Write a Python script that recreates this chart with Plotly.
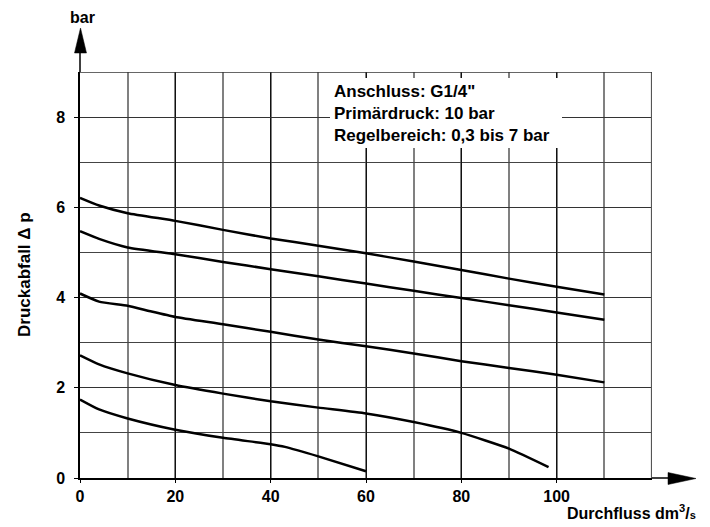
import plotly.graph_objects as go

# ---- data ----
x_c1 = [0, 4, 10, 20, 30, 40, 50, 60, 70, 80, 90, 100, 110]
y_c1 = [6.21, 6.04, 5.87, 5.70, 5.50, 5.31, 5.15, 4.98, 4.80, 4.61, 4.42, 4.24, 4.07]

x_c2 = [0, 4, 10, 20, 30, 40, 50, 60, 70, 80, 90, 100, 110]
y_c2 = [5.47, 5.30, 5.11, 4.96, 4.79, 4.63, 4.47, 4.31, 4.15, 3.99, 3.83, 3.67, 3.51]

x_c3 = [0, 4, 10, 15, 20, 30, 40, 50, 60, 70, 80, 90, 100, 110]
y_c3 = [4.09, 3.91, 3.82, 3.69, 3.57, 3.41, 3.24, 3.07, 2.92, 2.76, 2.59, 2.44, 2.29, 2.12]

x_c4 = [0, 4, 10, 20, 30, 40, 50, 60, 70, 80, 90, 98.3]
y_c4 = [2.72, 2.52, 2.32, 2.06, 1.87, 1.70, 1.56, 1.43, 1.24, 1.00, 0.65, 0.24]

x_c5 = [0, 4, 10, 20, 30, 40, 43, 50, 60]
y_c5 = [1.74, 1.52, 1.32, 1.07, 0.89, 0.75, 0.69, 0.48, 0.15]

x_ticks = [0, 20, 40, 60, 80, 100]
y_ticks = [0, 2, 4, 6, 8]

info_lines = ['Anschluss: G1/4"', 'Primärdruck: 10 bar', 'Regelbereich: 0,3 bis 7 bar']

FONT = "Liberation Sans, Arial, Helvetica, sans-serif"

fig = go.Figure()
for xs, ys in [(x_c1, y_c1), (x_c2, y_c2), (x_c3, y_c3), (x_c4, y_c4), (x_c5, y_c5)]:
    fig.add_trace(go.Scatter(x=xs, y=ys, mode="lines",
                             line=dict(color="black", width=2.5, shape="spline", smoothing=0.5),
                             showlegend=False, hoverinfo="skip"))

# plot area in window pixels: x 80..652, y 72..478 (page body adds an 8 px offset)
PW, PH = 572.0, 406.0
def px(x):
    return (x - 80) / PW
def py(y):
    return (478 - y) / PH

shapes = [
    # right border
    dict(type="line", xref="x", yref="paper", x0=120, x1=120, y0=0, y1=1,
         line=dict(color="#555", width=2.2), layer="above"),
    # white info box
    dict(type="rect", xref="paper", yref="paper", x0=px(330), x1=px(562), y0=py(148), y1=py(78),
         fillcolor="white", line=dict(width=0), layer="above"),
    # y axis extension + arrow
    dict(type="line", xref="paper", yref="paper", x0=0, x1=0, y0=1, y1=py(50),
         line=dict(color="black", width=1.5), layer="above"),
    dict(type="path", xref="paper", yref="paper",
         path=f"M {px(74.5)},{py(53)} L {px(86.5)},{py(53)} L {px(80.5)},{py(28)} Z",
         fillcolor="black", line=dict(color="black", width=0.5), layer="above"),
    # x axis extension + arrow
    dict(type="line", xref="paper", yref="paper", x0=1, x1=px(670), y0=0, y1=0,
         line=dict(color="black", width=1.5), layer="above"),
    dict(type="path", xref="paper", yref="paper",
         path=f"M {px(668)},{py(472.5)} L {px(668)},{py(484.5)} L {px(696)},{py(478.5)} Z",
         fillcolor="black", line=dict(color="black", width=0.5), layer="above"),
    # top border
    dict(type="line", xref="paper", yref="y", x0=0, x1=1, y0=9, y1=9,
         line=dict(color="#333", width=1.5), layer="above"),
]

annotations = [
    dict(text="bar", xref="paper", yref="paper", x=px(82), y=py(17.5), showarrow=False,
         xanchor="center", yanchor="middle", font=dict(size=16, family=FONT, color="black", weight="bold")),
    dict(text="Druckabfall Δ p", xref="paper", yref="paper", x=px(24), y=py(275), showarrow=False,
         textangle=-90, xanchor="center", yanchor="middle",
         font=dict(size=17, family=FONT, color="black", weight="bold")),
    dict(text="Durchfluss dm<sup>3</sup>/<span style='font-size:11px'>s</span>", xref="paper", yref="paper",
         x=px(698), y=py(512), showarrow=False, xanchor="right", yanchor="middle",
         font=dict(size=16, family=FONT, color="black", weight="bold")),
]
for i, line in enumerate(info_lines):
    annotations.append(dict(text=line, xref="paper", yref="paper", x=px(332), y=py(91.5 + 22 * i),
                            showarrow=False, xanchor="left", yanchor="middle",
                            font=dict(size=17, family=FONT, color="black", weight="bold")))

fig.update_layout(
    width=702, height=519,
    margin=dict(l=72, r=58, t=64, b=49),
    paper_bgcolor="white", plot_bgcolor="white",
    shapes=shapes, annotations=annotations,
    font=dict(family=FONT, size=16, color="black", weight="bold"),
    xaxis=dict(range=[0, 120], tickvals=x_ticks, ticktext=[str(v) for v in x_ticks],
               showgrid=True, gridcolor="#111", gridwidth=1,
               minor=dict(dtick=10, tick0=0, showgrid=True, gridcolor="#808080", gridwidth=1.6, ticks=""),
               ticks="outside", ticklen=3, tickcolor="black",
               showline=True, linecolor="black", linewidth=1.5, mirror=False,
               zeroline=False, fixedrange=True,
               tickfont=dict(size=16, family=FONT, color="black", weight="bold")),
    yaxis=dict(range=[0, 9], tickvals=y_ticks, ticktext=[str(v) for v in y_ticks],
               showgrid=True, gridcolor="#333", gridwidth=1,
               minor=dict(dtick=1, tick0=0, showgrid=True, gridcolor="#444", gridwidth=1, ticks=""),
               ticks="outside", ticklen=4, tickcolor="black", ticklabelstandoff=6,
               showline=True, linecolor="black", linewidth=1.5,
               zeroline=False, fixedrange=True,
               tickfont=dict(size=16, family=FONT, color="black", weight="bold")),
)

fig.write_html("out.html")
